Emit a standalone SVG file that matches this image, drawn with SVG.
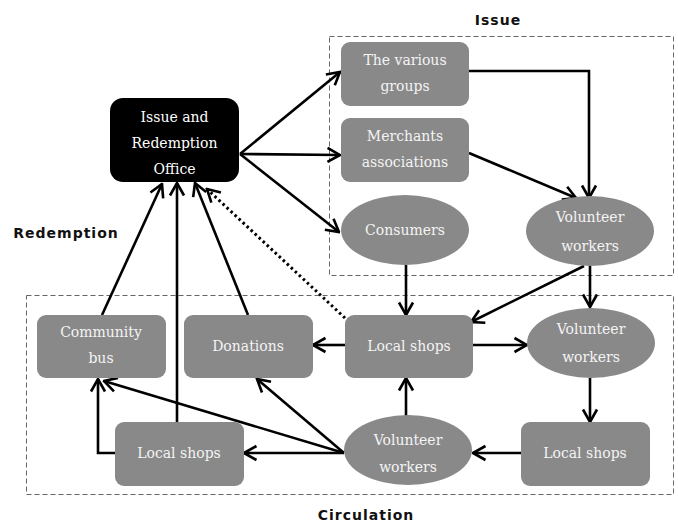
<svg xmlns="http://www.w3.org/2000/svg" width="678" height="523" viewBox="0 0 678 523">
<style>
.box{fill:#898989}
.t{font-family:"DejaVu Serif","Liberation Serif",serif;font-size:14px;fill:#f4f4f4;text-anchor:middle}
.tb{font-family:"DejaVu Serif","Liberation Serif",serif;font-size:14px;fill:#ffffff;text-anchor:middle}
.lbl{font-family:"DejaVu Sans","Liberation Sans",sans-serif;font-size:14px;font-weight:bold;fill:#111;text-anchor:middle;letter-spacing:1px}
.grp{fill:none;stroke:#666;stroke-width:1;stroke-dasharray:5,3}
.c{fill:none;stroke:#000;stroke-width:2.6;marker-end:url(#ah)}
.d{fill:none;stroke:#000;stroke-width:3;stroke-dasharray:2.5,3;marker-end:url(#ah)}
</style>
<defs>
<marker id="ah" viewBox="0 0 16 18" refX="14.5" refY="9" markerWidth="16" markerHeight="18" markerUnits="userSpaceOnUse" orient="auto">
<path d="M2,2 L14.5,9 L2,16" fill="none" stroke="#000" stroke-width="2.6"/>
</marker>
</defs>
<rect width="678" height="523" fill="#fff"/>
<g id="groups">
<rect class="grp" x="329.5" y="36.5" width="344" height="239"/>
<rect class="grp" x="26.5" y="295.5" width="647" height="199"/>
<text class="lbl" x="498" y="25">Issue</text>
<text class="lbl" x="66" y="238">Redemption</text>
<text class="lbl" x="366" y="520">Circulation</text>
</g>
<g id="connectors">
<path class="c" d="M240,154 L340,72"/>
<path class="c" d="M240,154 L340,155"/>
<path class="c" d="M240,154 L339,232"/>
<path class="c" d="M469,71 L589,71 L589,198"/>
<path class="c" d="M469,153 L576,198"/>
<path class="c" d="M406,265 L406,315"/>
<path class="c" d="M584,266 L471,322"/>
<path class="c" d="M590,266 L590,307"/>
<path class="c" d="M473,345 L527,345"/>
<path class="c" d="M590,378 L590,422"/>
<path class="c" d="M521,453 L473,453"/>
<path class="c" d="M406,416 L406,378"/>
<path class="c" d="M345,345 L313,345"/>
<path class="c" d="M344,453 L244,453"/>
<path class="c" d="M344,453 L257,379"/>
<path class="c" d="M344,453 L104,381"/>
<path class="c" d="M115,453 L98,453 L98,379"/>
<path class="c" d="M177,422 L177,183"/>
<path class="c" d="M102,315 L162,184"/>
<path class="c" d="M248,315 L195,183"/>
<path class="d" d="M345,318 L207,189"/>
</g>
<g id="office">
<rect x="110" y="98" width="129" height="84" rx="13" fill="#000"/>
<text class="tb" x="174.5" y="122">Issue and</text>
<text class="tb" x="174.5" y="148">Redemption</text>
<text class="tb" x="174.5" y="174">Office</text>
</g>
<g id="various-groups">
<rect class="box" x="341" y="42" width="128" height="64" rx="9"/>
<text class="t" x="405" y="65">The various</text>
<text class="t" x="405" y="91">groups</text>
</g>
<g id="merchants">
<rect class="box" x="341" y="118" width="128" height="64" rx="9"/>
<text class="t" x="405" y="141">Merchants</text>
<text class="t" x="405" y="167">associations</text>
</g>
<g id="consumers">
<ellipse class="box" cx="405" cy="230" rx="64" ry="35"/>
<text class="t" x="405" y="235">Consumers</text>
</g>
<g id="volunteer-issue">
<ellipse class="box" cx="590" cy="231" rx="64" ry="35"/>
<text class="t" x="590" y="222">Volunteer</text>
<text class="t" x="590" y="251">workers</text>
</g>
<g id="local-shops-center">
<rect class="box" x="345" y="315" width="128" height="63" rx="9"/>
<text class="t" x="409" y="351">Local shops</text>
</g>
<g id="volunteer-mid">
<ellipse class="box" cx="591" cy="343" rx="64" ry="35"/>
<text class="t" x="591" y="334">Volunteer</text>
<text class="t" x="591" y="362">workers</text>
</g>
<g id="local-shops-right">
<rect class="box" x="521" y="422" width="129" height="64" rx="9"/>
<text class="t" x="585" y="458">Local shops</text>
</g>
<g id="volunteer-bottom">
<ellipse class="box" cx="408" cy="450" rx="64" ry="35"/>
<text class="t" x="408" y="445">Volunteer</text>
<text class="t" x="408" y="472">workers</text>
</g>
<g id="local-shops-left">
<rect class="box" x="115" y="422" width="129" height="64" rx="9"/>
<text class="t" x="179" y="458">Local shops</text>
</g>
<g id="donations">
<rect class="box" x="184" y="315" width="129" height="63" rx="9"/>
<text class="t" x="248" y="351">Donations</text>
</g>
<g id="community-bus">
<rect class="box" x="37" y="315" width="129" height="63" rx="9"/>
<text class="t" x="101" y="337">Community</text>
<text class="t" x="101" y="363">bus</text>
</g>
</svg>
